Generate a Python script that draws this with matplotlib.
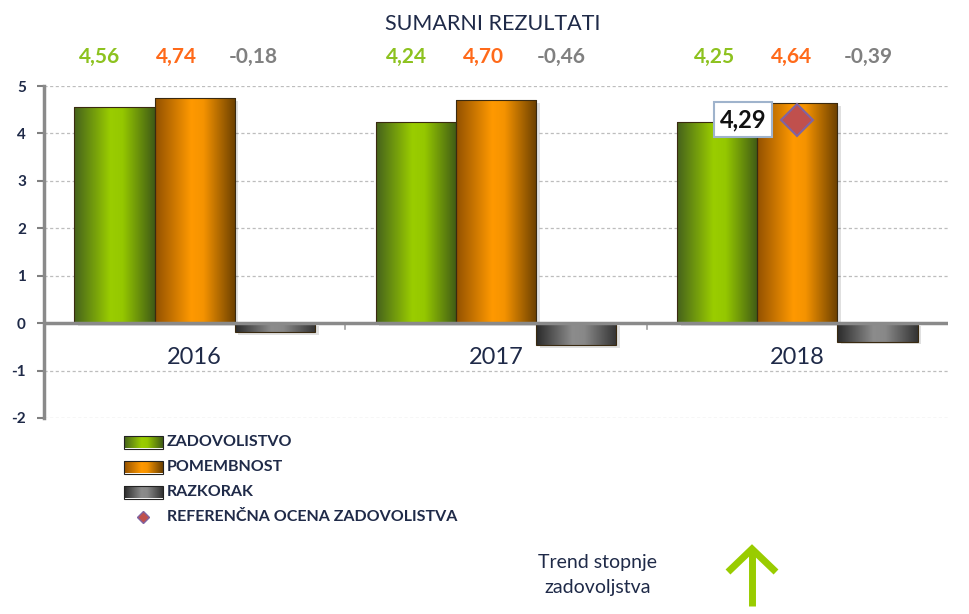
import numpy as np
import matplotlib
matplotlib.use("Agg")
import matplotlib.pyplot as plt
from matplotlib.colors import LinearSegmentedColormap
from matplotlib.patches import Rectangle

plt.rcParams['font.family'] = ['Lato', 'DejaVu Sans']

# ---- data ----
years = ['2016', '2017', '2018']
zadovoljstvo = [4.56, 4.24, 4.25]
pomembnost = [4.74, 4.70, 4.64]
razkorak = [-0.18, -0.46, -0.39]
zad_labels = ['4,56', '4,24', '4,25']
pom_labels = ['4,74', '4,70', '4,64']
raz_labels = ['-0,18', '-0,46', '-0,39']
ref_year_index = 2
ref_value = 4.29
ref_label = '4,29'
series_names = ['ZADOVOLISTVO', 'POMEMBNOST', 'RAZKORAK', 'REFERENČNA OCENA ZADOVOLISTVA']
title = 'SUMARNI REZULTATI'
trend_text = 'Trend stopnje\nzadovoljstva'
yticks = [-2, -1, 0, 1, 2, 3, 4, 5]

# ---- style ----
navy = '#1f2a48'
cm_green = LinearSegmentedColormap.from_list('g', [(0, '#45621c'), (0.45, '#9acd00'), (0.6, '#95c800'), (1, '#3f5a16')])
cm_orange = LinearSegmentedColormap.from_list('o', [(0, '#935100'), (0.45, '#ff9900'), (0.6, '#f59300'), (1, '#6a3f00')])
cm_gray = LinearSegmentedColormap.from_list('k', [(0, '#2a2a2a'), (0.45, '#8c8c8c'), (0.6, '#888888'), (1, '#333333')])
grad = np.linspace(0, 1, 256).reshape(1, -1)

W, H = 969, 614
fig = plt.figure(figsize=(W / 100, H / 100), dpi=100)
ax = fig.add_axes([44 / W, 1 - 418 / H, (948 - 44) / W, (418 - 86) / H])

x = np.arange(len(years))
bw = 0.266
series = [(zadovoljstvo, cm_green), (pomembnost, cm_orange), (razkorak, cm_gray)]
for j, (vals, cm) in enumerate(series):
    bars = ax.bar(x + (j - 1) * bw, vals, width=bw, color='none', edgecolor='#3a2a10',
                  linewidth=0.8, zorder=3)
    for b in bars:
        bx, by = b.get_x(), b.get_y()
        bwid, bh = b.get_width(), b.get_height()
        ax.add_patch(Rectangle((bx + 0.012, by - 0.06), bwid, bh,
                               facecolor='#000000', alpha=0.12, edgecolor='none', zorder=2))
        im = ax.imshow(grad, cmap=cm, extent=[bx, bx + bwid, min(by, by + bh), max(by, by + bh)],
                       aspect='auto', zorder=2.5, interpolation='bicubic')
        im.set_clip_path(b)

# reference diamond
ax.plot([x[ref_year_index]], [ref_value], marker='D', markersize=16, color='#c0504d',
        markeredgecolor='#8064a2', markeredgewidth=1.5, linestyle='none', zorder=5)
ax.text(x[ref_year_index] - 0.18, ref_value, ref_label, ha='center', va='center',
        fontsize=17, fontweight='bold', color='#111111', zorder=6,
        bbox=dict(boxstyle='square,pad=0.25', facecolor='white', edgecolor='#9fb3cc', linewidth=1.5))

ax.set_xlim(-0.5, 2.5)
ax.set_ylim(-2, 5)
ax.set_yticks(yticks)
ax.set_yticklabels([str(v) for v in yticks], fontsize=11, fontweight='bold', color=navy)
ax.tick_params(axis='y', length=5, width=1.5, color='#808080', pad=8)
for v in yticks:
    if v != 0:
        ax.axhline(v, color='#bdbdbd', linestyle=(0, (2.5, 2)), linewidth=0.9, zorder=1)
ax.axhline(0, color='#8a8a8a', linewidth=2.5, zorder=4)
for bnd in [0.5, 1.5]:
    ax.plot([bnd, bnd], [0, -0.13], color='#a0a0a0', linewidth=1.2, zorder=1)
ax.set_xticks([])
for s in ['top', 'right', 'bottom']:
    ax.spines[s].set_visible(False)
ax.spines['left'].set_color('#8a8a8a')
ax.spines['left'].set_linewidth(2.5)

for i, yr in enumerate(years):
    ax.text(x[i], -0.72, yr, ha='center', va='center', fontsize=17, color=navy)

# value labels above
lab_colors = ['#8dc21f', '#ff6a1a', '#808080']
for i in range(len(years)):
    for j, labs in enumerate([zad_labels, pom_labels, raz_labels]):
        xx = -0.06 + 1.02 * x[i] + (j - 1) * 0.256
        ax.text(xx, 5.62, labs[i], ha='center', va='center', fontsize=15, fontweight='bold',
                color=lab_colors[j], clip_on=False)
ax.text(0.99, 6.3, title, ha='center', va='center', fontsize=15.5,
        color=navy, clip_on=False)

# overlay for legend & trend
ov = fig.add_axes([0, 0, 1, 1], zorder=10)
ov.set_xlim(0, W)
ov.set_ylim(H, 0)
ov.axis('off')
ov.patch.set_alpha(0)

rows = [442, 467, 492, 517]
for k, cm in enumerate([cm_green, cm_orange, cm_gray]):
    r = Rectangle((124, rows[k] - 6.5), 39, 13, facecolor='none', edgecolor='#222222', linewidth=0.8)
    ov.add_patch(r)
    im = ov.imshow(grad, cmap=cm, extent=[124, 163, rows[k] + 6.5, rows[k] - 6.5], aspect='auto',
                   interpolation='bicubic')
    im.set_clip_path(r)
ov.plot([143], [rows[3]], marker='D', markersize=6, color='#c0504d', markeredgecolor='#8064a2',
        markeredgewidth=1, linestyle='none')
for k, name in enumerate(series_names):
    ov.text(167, rows[k], name, ha='left', va='center', fontsize=11.5, fontweight='bold', color=navy)

ov.text(598, 575, trend_text, ha='center', va='center', fontsize=14, color=navy, linespacing=1.6)
ov.plot([752, 752], [551, 606], color='#99cc00', linewidth=5, solid_capstyle='butt')
ov.plot([728, 752, 776], [572, 549, 572], color='#99cc00', linewidth=5, solid_joinstyle='miter',
        solid_capstyle='butt')
ov.set_xlim(0, W)
ov.set_ylim(H, 0)

fig.savefig('out.png', dpi=100)
